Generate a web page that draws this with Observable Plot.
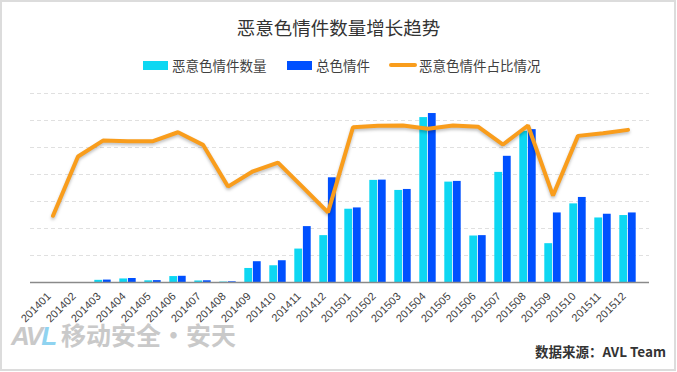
<!DOCTYPE html>
<html><head><meta charset="utf-8">
<script src="https://cdn.jsdelivr.net/npm/d3@7"></script>
<script src="https://cdn.jsdelivr.net/npm/@observablehq/plot@0.6"></script>
<style>
body{margin:0;background:#fff;}
#wrap{position:relative;width:677px;height:372px;overflow:hidden;font-family:"Noto Sans CJK SC","Liberation Sans",sans-serif;background:#fff;}
#frame{position:absolute;left:0;top:0;width:676px;height:371px;box-sizing:border-box;border:2px solid #dcdcdc;pointer-events:none;}
#title{position:absolute;top:13px;left:0;width:677px;text-align:center;font-size:18.5px;color:#333;line-height:28px;}
.sw{position:absolute;}
.lt{position:absolute;top:56px;font-size:13.5px;line-height:18px;color:#404040;white-space:nowrap;}
#plot{position:absolute;left:0;top:0;}
#logo{position:absolute;left:11px;top:316px;white-space:nowrap;font-weight:700;color:#c9c9c9;}
#src{position:absolute;right:11px;top:341px;font-size:13.5px;font-weight:700;color:#333;white-space:nowrap;}
</style></head>
<body>
<div id="wrap">
  <div id="title">恶意色情件数量增长趋势</div>
  <div class="sw" style="left:143px;top:61px;width:25px;height:9px;background:#0DD7F2"></div>
  <div class="lt" style="left:172px">恶意色情件数量</div>
  <div class="sw" style="left:287px;top:61px;width:25px;height:9px;background:#0050FF"></div>
  <div class="lt" style="left:316px">总色情件</div>
  <div class="sw" style="left:389px;top:63px;width:28px;height:4px;border-radius:2px;background:#F99D1C"></div>
  <div class="lt" style="left:419px">恶意色情件占比情况</div>
  <div id="plot"></div>
  <div id="logo"><span style="font-family:'Liberation Sans';font-style:italic;font-size:26px;letter-spacing:-2px">AV</span><span style="font-family:'Liberation Sans';font-style:italic;font-size:26px;color:#8fd3f0">L</span><span style="font-size:25px;margin-left:4px">移动安全·安天</span></div>
  <div id="src">数据来源：AVL Team</div>
  <div id="frame"></div>
</div>
<script>
const months = ["201401","201402","201403","201404","201405","201406","201407","201408","201409","201410","201411","201412",
                "201501","201502","201503","201504","201505","201506","201507","201508","201509","201510","201511","201512"];
const malware = [0,0,40,66,31,110,28,8,260,310,619,868,1357,1891,1705,3054,1859,861,2039,2798,719,1456,1195,1240];
const total   = [0,0,45,74,35,115,32,13,385,403,1035,1939,1381,1896,1723,3129,1872,868,2337,2831,1288,1575,1264,1288];
const ratioPct = [42.4,80.0,90.1,89.7,89.7,95.4,87.4,60.9,70.6,76.1,60.4,44.5,98.6,99.5,99.7,97.6,99.7,98.9,87.6,99.7,55.2,93.1,94.8,96.9];
const gridTicks = [500,1000,1500,2000,2500,3000,3500];
const countMax = 3500;   // hidden left axis max
const ratioMax = 120;    // hidden right axis max (%)

const data = months.map((m, i) => ({month: m, malware: malware[i], total: total[i], ratio: ratioPct[i]}));

const chart = Plot.plot({
  width: 677,
  height: 372,
  marginLeft: 30,
  marginRight: 28,
  marginTop: 93,
  marginBottom: 90,
  x: {type: "band", domain: months, padding: 0, axis: null},
  y: {domain: [0, countMax], axis: null},
  style: {fontFamily: "'Liberation Sans', sans-serif", background: "transparent"},
  marks: [
    Plot.ruleY(gridTicks, {stroke: "#e0e0e0", strokeWidth: 1.2, strokeDasharray: "4,3"}),
    Plot.barY(data, {x: "month", y: "malware", fill: "#0DD7F2", insetLeft: 4.3, insetRight: 12.9}),
    Plot.barY(data, {x: "month", y: "total", fill: "#0050FF", insetLeft: 12.9, insetRight: 4.3}),
    Plot.ruleY([0], {stroke: "#8a8a8a", strokeWidth: 1.6}),
    Plot.line(data, {x: "month", y: d => d.ratio / ratioMax * countMax, stroke: "#F99D1C", strokeWidth: 4,
      strokeLinejoin: "miter", imageFilter: "drop-shadow(0px 2px 1.5px rgba(0,0,0,0.25))"}),
    Plot.text(months, {x: d => d, frameAnchor: "bottom", text: d => d, rotate: -45, textAnchor: "end",
      lineAnchor: "middle", dx: -4, dy: 12, fontSize: 11, fill: "#404040"})
  ]
});
document.getElementById("plot").appendChild(chart);
</script>
</body></html>
